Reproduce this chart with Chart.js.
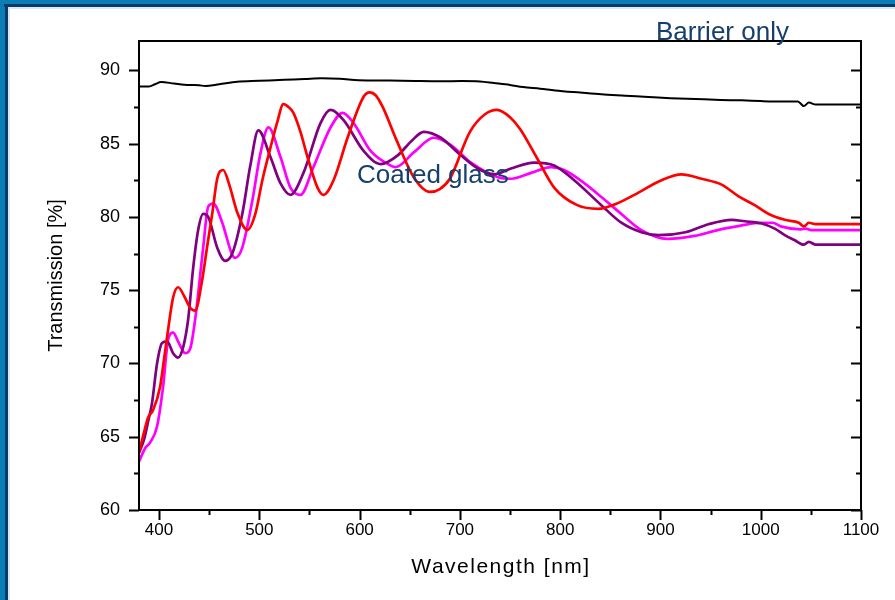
<!DOCTYPE html>
<html>
<head>
<meta charset="utf-8">
<script src="https://cdn.jsdelivr.net/npm/chart.js@4.4.1/dist/chart.umd.min.js"></script>
<style>
    html, body { margin: 0; padding: 0; background: #fff; }
    #wrap { width: 895px; height: 600px; }
</style>
</head>
<body>
<div id="wrap"><canvas id="transmissionChart" width="895" height="600"></canvas></div>
<script>
// tick labels
const xTicks = [400, 500, 600, 700, 800, 900, 1000, 1100];
const yTicks = [60, 65, 70, 75, 80, 85, 90];

// barrier only (black)
const barrierNm = [380, 390, 396, 402, 415, 430, 440, 446, 460, 478, 500, 525, 545, 562, 580, 599, 630, 655, 680, 702, 720, 734, 750, 763, 780, 795, 820, 841, 865, 888, 910, 935, 960, 981, 1000, 1020, 1037, 1043, 1048, 1055, 1100];
const barrierT  = [88.9, 88.9, 89.05, 89.2, 89.1, 89.0, 88.98, 88.93, 89.05, 89.22, 89.28, 89.35, 89.4, 89.45, 89.42, 89.33, 89.3, 89.27, 89.25, 89.27, 89.24, 89.13, 89.0, 88.86, 88.75, 88.63, 88.48, 88.36, 88.27, 88.18, 88.1, 88.04, 87.98, 87.95, 87.9, 87.87, 87.88, 87.56, 87.8, 87.66, 87.66];

// coated glass (red)
const redNm = [380, 385, 389, 394, 401, 405, 409, 414, 419, 425, 431, 436, 443, 448, 453, 458, 464, 470, 478, 488, 496, 503, 511, 518, 524, 529, 534, 541, 548, 558, 564, 574, 588, 604, 610, 616, 623, 637, 654, 670, 680, 690, 710, 725, 737, 750, 760, 777, 794, 817, 838, 856, 874, 901, 921, 941, 961, 978, 994, 1008, 1024, 1038, 1043, 1048, 1055, 1100];
const redT  = [63.9, 65.3, 66.3, 66.8, 68.4, 70.3, 72.3, 74.5, 75.2, 74.6, 73.8, 73.6, 75.7, 78.0, 80.2, 82.6, 83.2, 82.2, 80.3, 79.1, 80.2, 82.5, 84.7, 86.5, 87.7, 87.5, 87.1, 85.8, 84.1, 82.0, 81.5, 82.5, 85.4, 88.2, 88.5, 88.3, 87.5, 85.2, 82.7, 81.7, 81.9, 82.6, 85.8, 87.0, 87.3, 86.8, 86.0, 84.0, 82.0, 80.8, 80.55, 80.9, 81.5, 82.5, 82.9, 82.6, 82.2, 81.4, 80.8, 80.2, 79.8, 79.6, 79.35, 79.6, 79.5, 79.5];

// coated glass (magenta)
const magentaNm = [380, 386, 391, 398, 404, 409, 414, 419, 426, 431, 436, 444, 449, 454, 463, 473, 476, 483, 493, 501, 509, 521, 531, 541, 554, 571, 583, 594, 611, 631, 636, 654, 674, 691, 711, 738, 751, 771, 791, 804, 824, 842, 861, 881, 907, 934, 957, 980, 1000, 1012, 1020, 1040, 1045, 1050, 1100];
const magentaT  = [63.3, 64.2, 64.6, 65.7, 68.4, 71.6, 72.1, 71.5, 70.7, 71.0, 73.0, 77.9, 80.7, 80.9, 79.6, 77.4, 77.2, 77.9, 81.1, 84.3, 86.1, 84.1, 82.0, 81.5, 83.4, 86.1, 87.1, 86.4, 84.5, 83.5, 83.4, 84.4, 85.4, 84.9, 83.7, 82.7, 82.6, 83.0, 83.4, 83.2, 82.3, 81.3, 80.2, 79.1, 78.5, 78.7, 79.1, 79.4, 79.6, 79.6, 79.35, 79.15, 79.2, 79.1, 79.1];

// coated glass (purple)
const purpleNm = [380, 385, 389, 393, 398, 403, 408, 414, 419, 424, 429, 434, 439, 444, 449, 458, 466, 473, 483, 491, 499, 511, 521, 531, 544, 561, 571, 584, 604, 621, 638, 652, 664, 681, 701, 718, 734, 751, 774, 794, 814, 841, 861, 881, 898, 925, 948, 971, 984, 1001, 1014, 1024, 1034, 1043, 1048, 1055, 1100];
const purpleT  = [63.9, 64.8, 66.0, 67.3, 70.0, 71.4, 71.5, 70.7, 70.4, 71.1, 73.0, 76.5, 79.1, 80.2, 80.0, 77.9, 77.0, 77.5, 80.2, 83.5, 85.9, 84.1, 82.3, 81.5, 83.0, 86.4, 87.3, 86.6, 84.5, 83.6, 84.2, 85.2, 85.8, 85.4, 84.2, 83.3, 82.9, 83.3, 83.7, 83.5, 82.5, 80.8, 79.6, 78.95, 78.75, 78.95, 79.5, 79.8, 79.7, 79.55, 79.2, 78.75, 78.4, 78.1, 78.3, 78.1, 78.1];

const FONT = "'Liberation Sans', Arial, sans-serif";
const NAVY = '#163f6b';

function toPoints(nm, values) {
    return nm.map((x, i) => ({ x, y: values[i] }));
}

function lineDataset(nm, values, color, width, order) {
    return {
        data: toPoints(nm, values),
        borderColor: color,
        backgroundColor: color,
        borderWidth: width,
        pointRadius: 0,
        cubicInterpolationMode: 'monotone',
        order
    };
}

// blue frame, axis box with ticks, text notes
const slideFrame = {
    id: 'slideFrame',
    beforeDraw(chart) {
        const { ctx, width, height } = chart;
        ctx.save();
        ctx.fillStyle = '#ffffff';
        ctx.fillRect(0, 0, width, height);
        ctx.fillStyle = '#0a7db5';
        ctx.fillRect(0, 0, width, 4);
        ctx.fillRect(0, 0, 5, height);
        ctx.fillStyle = '#0b3a68';
        ctx.fillRect(4, 4, width - 4, 3);
        ctx.fillRect(5, 4, 3, height - 4);
        ctx.fillStyle = '#dbe8f2';
        ctx.fillRect(8, 7, width - 8, 2);
        ctx.fillRect(8, 7, 2, height - 7);
        ctx.restore();
    },
    afterDatasetsDraw(chart) {
        const { ctx, chartArea: a, scales: { x, y } } = chart;
        ctx.save();
        ctx.strokeStyle = '#000';
        ctx.lineWidth = 2;
        ctx.strokeRect(a.left, a.top, a.right - a.left, a.bottom - a.top);
        ctx.beginPath();
        yTicks.forEach(v => {
            const py = Math.round(y.getPixelForValue(v)) + 0.5;
            ctx.moveTo(a.left - 10, py); ctx.lineTo(a.left, py);
            ctx.moveTo(a.right, py); ctx.lineTo(a.right - 10, py);
            const minor = v + 2.5;
            if (minor < y.max) {
                const pm = Math.round(y.getPixelForValue(minor)) + 0.5;
                ctx.moveTo(a.left - 5, pm); ctx.lineTo(a.left, pm);
                ctx.moveTo(a.right, pm); ctx.lineTo(a.right - 5, pm);
            }
        });
        xTicks.forEach(v => {
            const px = Math.round(x.getPixelForValue(v)) + 0.5;
            ctx.moveTo(px, a.bottom); ctx.lineTo(px, a.bottom + 10);
            const minor = v + 50;
            if (minor < x.max) {
                const pm = Math.round(x.getPixelForValue(minor)) + 0.5;
                ctx.moveTo(pm, a.bottom); ctx.lineTo(pm, a.bottom + 5);
            }
        });
        ctx.stroke();
        ctx.restore();
    },
    afterDraw(chart) {
        const { ctx, chartArea: a } = chart;
        ctx.save();
        ctx.fillStyle = NAVY;
        ctx.font = '26px ' + FONT;
        ctx.textBaseline = 'alphabetic';
        ctx.fillText('Barrier only', 656, 40);
        ctx.fillText('Coated glass', 357, 183);
        // x axis title, a little spaced out like the original
        ctx.fillStyle = '#000';
        ctx.font = '21px ' + FONT;
        ctx.letterSpacing = '1.5px';
        ctx.textAlign = 'center';
        ctx.textBaseline = 'middle';
        ctx.fillText('Wavelength [nm]', (a.left + a.right) / 2 + 1, 567);
        ctx.restore();
    }
};

const chart = new Chart(document.querySelector('#transmissionChart'), {
    type: 'line',
    data: {
        datasets: [
            lineDataset(barrierNm, barrierT, '#000000', 2, 3),
            lineDataset(magentaNm, magentaT, '#ff00ff', 2.7, 2),
            lineDataset(purpleNm, purpleT, '#800080', 2.7, 1),
            lineDataset(redNm, redT, '#ff0000', 2.7, 0)
        ]
    },
    options: {
        responsive: false,
        animation: false,
        devicePixelRatio: 1,
        layout: { padding: { top: 41, right: 34, bottom: 0, left: 0 } },
        plugins: {
            legend: { display: false },
            tooltip: { enabled: false }
        },
        scales: {
            x: {
                type: 'linear',
                min: 380,
                max: 1100,
                grid: { display: false, drawTicks: false },
                border: { display: false },
                afterBuildTicks: scale => { scale.ticks = xTicks.map(value => ({ value })); },
                afterFit: scale => { scale.height = 90; },
                ticks: {
                    autoSkip: false,
                    maxRotation: 0,
                    padding: 10,
                    color: '#000',
                    font: { family: FONT, size: 17 },
                    callback: value => String(value)
                }
            },
            y: {
                type: 'linear',
                min: 60,
                max: 92,
                grid: { display: false, drawTicks: false },
                border: { display: false },
                afterBuildTicks: scale => { scale.ticks = yTicks.map(value => ({ value })); },
                afterFit: scale => { scale.width = 139; },
                ticks: {
                    padding: 19,
                    color: '#000',
                    font: { family: FONT, size: 18 },
                    callback: value => String(value)
                },
                title: {
                    display: true,
                    text: 'Transmission [%]',
                    color: '#000',
                    font: { family: FONT, size: 20 },
                    padding: { top: 44, bottom: 0 }
                }
            }
        }
    },
    plugins: [slideFrame]
});
</script>
</body>
</html>
